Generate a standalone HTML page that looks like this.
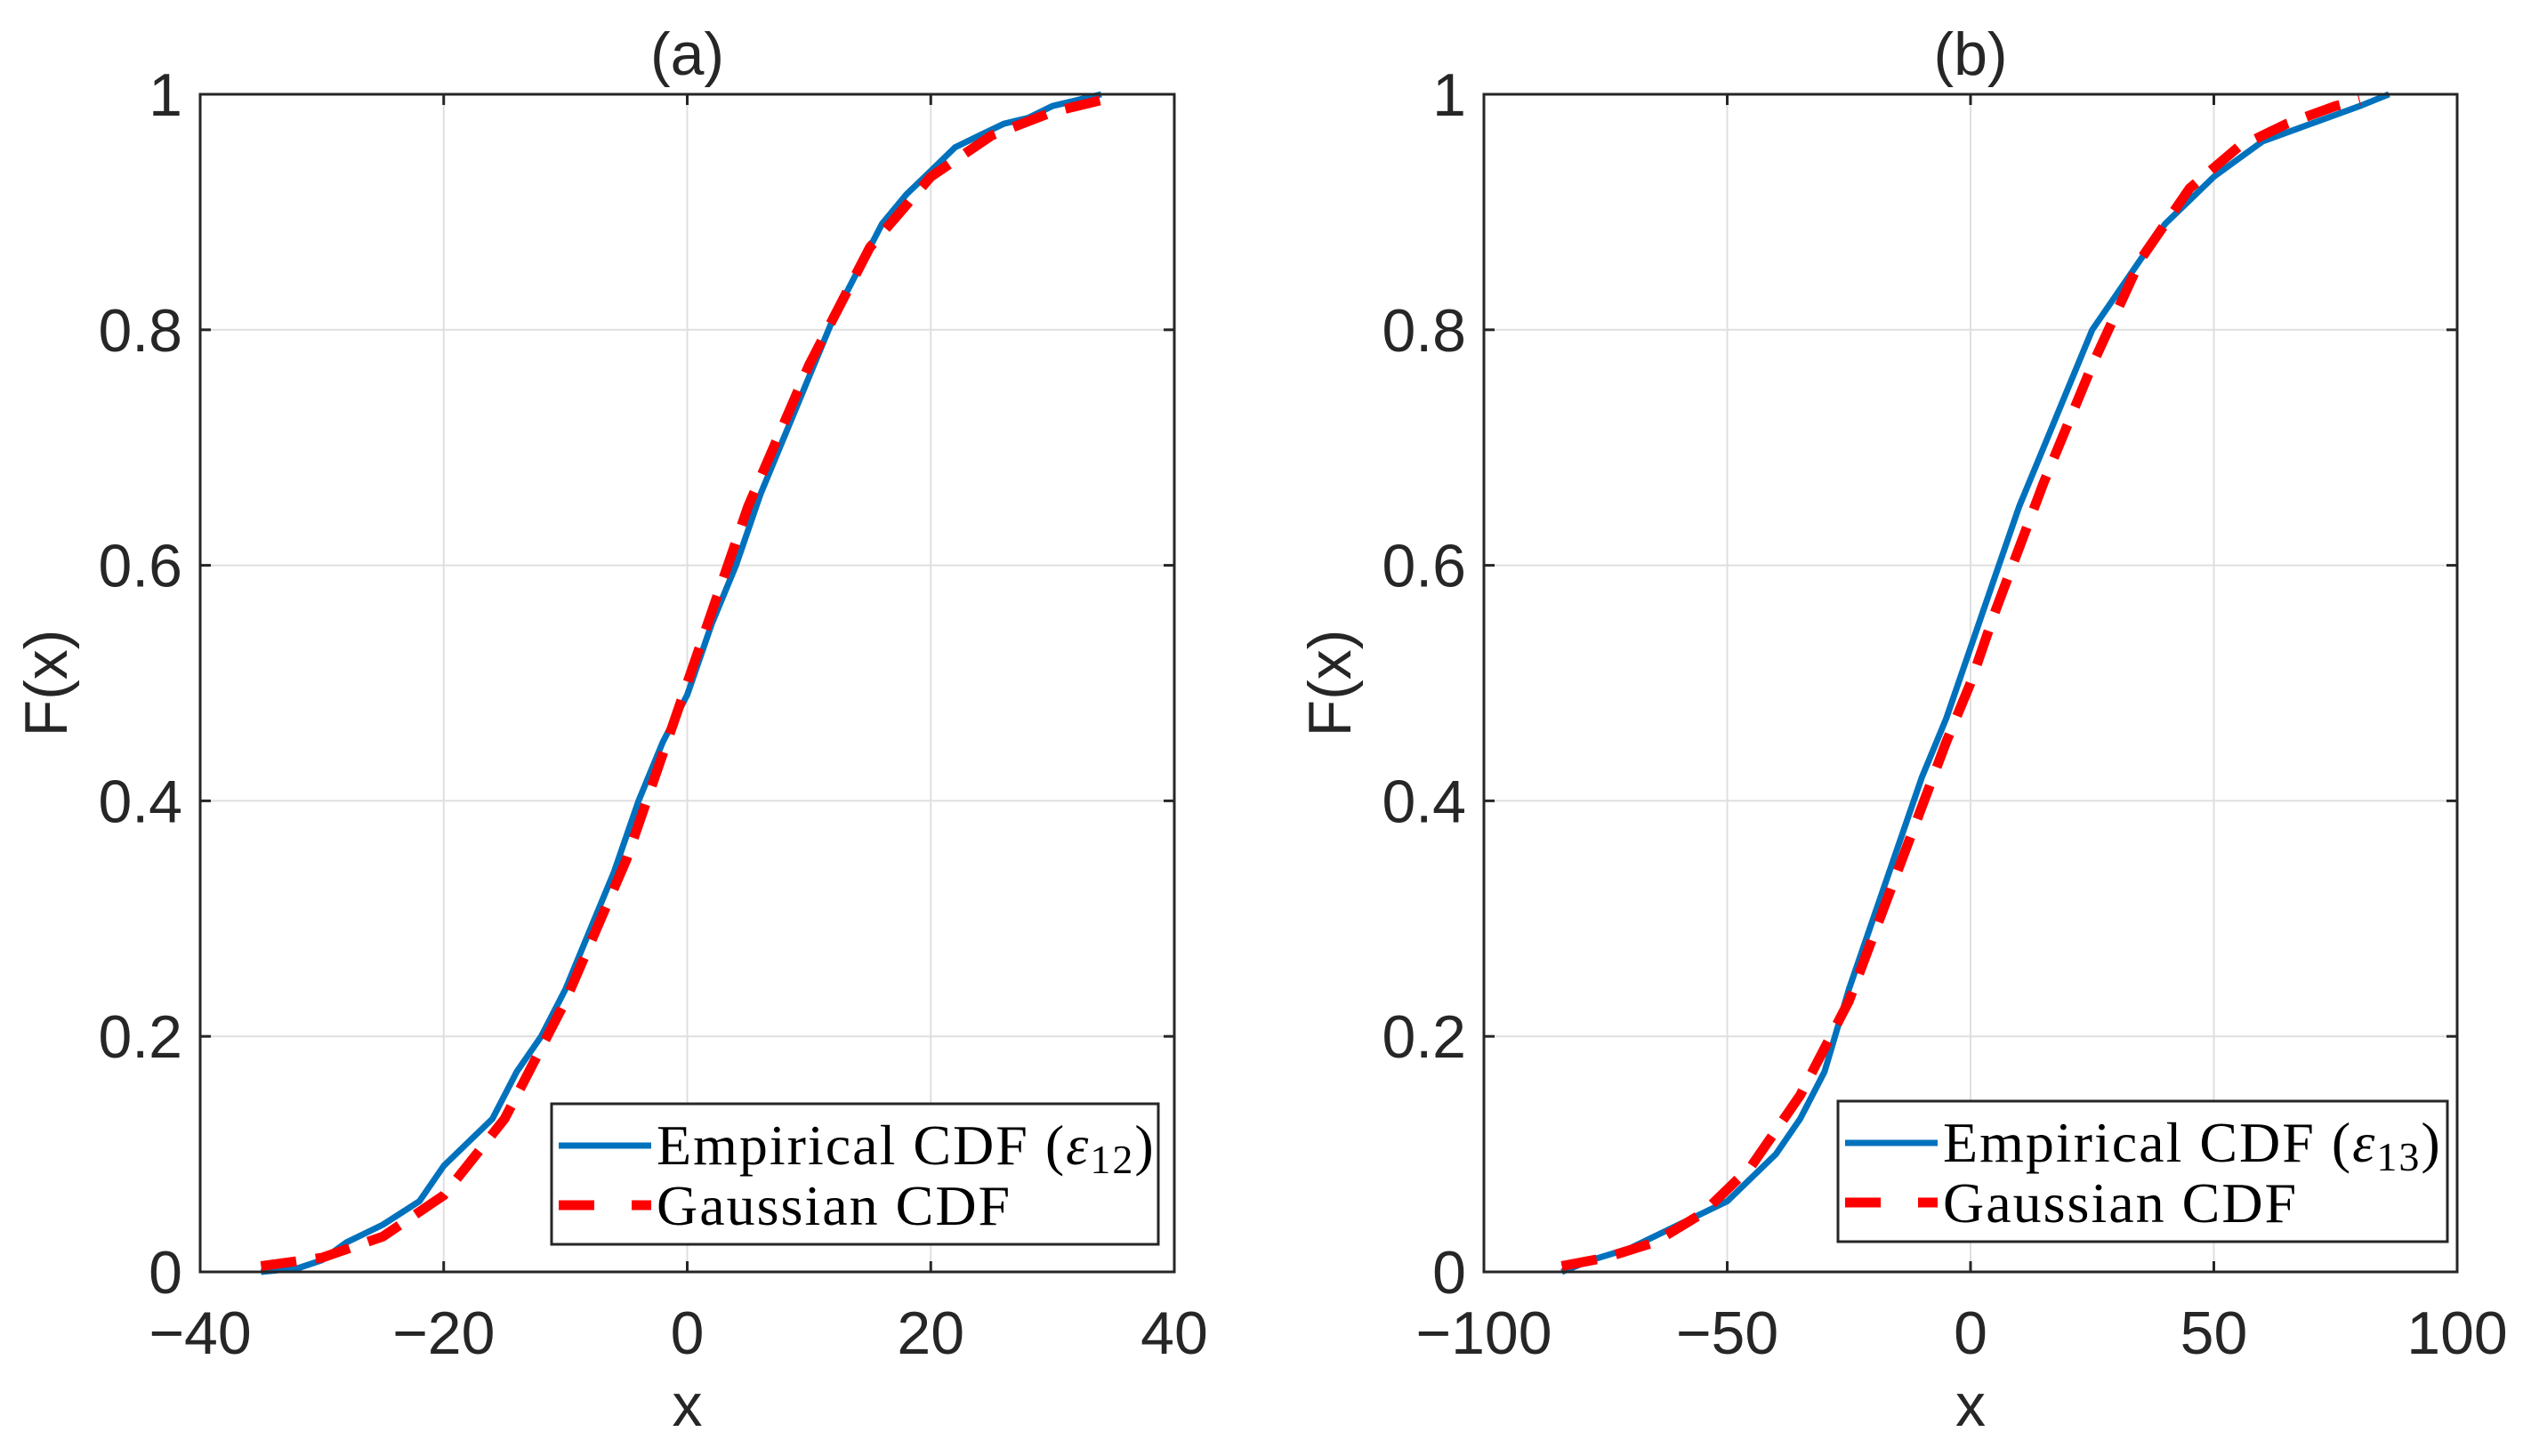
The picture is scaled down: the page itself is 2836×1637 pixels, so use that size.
<!DOCTYPE html>
<html><head><meta charset="utf-8">
<style>
html,body{margin:0;padding:0;background:#fff;}
svg{display:block;}
.tick{font-family:"Liberation Sans",sans-serif;font-size:68px;fill:#262626;}
.leg{font-family:"Liberation Serif",serif;font-size:64px;fill:#000;letter-spacing:2px;}
</style></head>
<body>
<svg id="chart" width="2836" height="1637" viewBox="0 0 2836 1637" xmlns="http://www.w3.org/2000/svg"></svg>
<script>
// Panel (a)
const aEmpX = [-35,-32,-30,-28,-25,-22,-20,-18,-16,-14,-12,-10,-8,-6,-4,-2,0,2,4,6,8,10,12,14,16,18,20,22,24,26,28,30,32,34];
const aEmpY = [0,0.003,0.01,0.025,0.04,0.06,0.09,0.11,0.13,0.17,0.2,0.24,0.29,0.34,0.4,0.45,0.49,0.55,0.6,0.66,0.71,0.76,0.81,0.85,0.89,0.915,0.935,0.955,0.965,0.975,0.98,0.99,0.995,1];
const aGauX = [-35,-30,-25,-20,-15,-10,-5,0,5,10,15,20,25,30,34];
const aGauY = [0.005,0.012,0.03,0.065,0.13,0.23,0.35,0.5,0.65,0.77,0.87,0.93,0.965,0.985,0.995];
const aXTicks = [-40,-20,0,20,40];
const aXTickLabels = ["\u221240","\u221220","0","20","40"];
// Panel (b)
const bEmpX = [-84,-78,-70,-60,-50,-45,-40,-35,-30,-25,-20,-15,-10,-5,0,5,10,15,20,25,30,35,40,45,50,55,60,70,80,86];
const bEmpY = [0,0.01,0.02,0.04,0.06,0.08,0.1,0.13,0.17,0.24,0.3,0.36,0.42,0.47,0.53,0.59,0.65,0.7,0.75,0.8,0.83,0.86,0.89,0.91,0.93,0.945,0.96,0.975,0.99,1];
const bGauX = [-84,-75,-65,-55,-45,-35,-25,-15,-5,0,5,15,25,35,45,55,65,75,80];
const bGauY = [0.005,0.012,0.025,0.05,0.09,0.15,0.23,0.34,0.45,0.5,0.56,0.67,0.77,0.86,0.92,0.955,0.975,0.99,0.995];
const bXTicks = [-100,-50,0,50,100];
const bXTickLabels = ["\u2212100","\u221250","0","50","100"];
const yTicks = [0,0.2,0.4,0.6,0.8,1];
const yTickLabels = ["0","0.2","0.4","0.6","0.8","1"];

const NS = "http://www.w3.org/2000/svg";
const svg = document.getElementById('chart');
function mk(tag, attrs, parent){
  const e = document.createElementNS(NS, tag);
  for (const k in attrs) e.setAttribute(k, attrs[k]);
  (parent||svg).appendChild(e);
  return e;
}
function panel(o){
  const g = mk('g', {});
  
  
  const sx = v => o.L + (v - o.xmin) / (o.xmax - o.xmin) * (o.R - o.L);
  const sy = v => o.B - v * (o.B - o.T);
  o.xt.forEach((t) => {
    const l = mk('line', {x1:sx(t), x2:sx(t), y1:o.T, y2:o.B, stroke:'#dfdfdf', 'stroke-width':2}, g);
    
    
  });
  yTicks.forEach((t) => {
    const l = mk('line', {x1:o.L, x2:o.R, y1:sy(t), y2:sy(t), stroke:'#dfdfdf', 'stroke-width':2}, g);
    
    
  });
  const ptsE = o.ex.map((x,i)=>sx(x).toFixed(1)+','+sy(o.ey[i]).toFixed(1)).join(' ');
  const ptsG = o.gx.map((x,i)=>sx(x).toFixed(1)+','+sy(o.gy[i]).toFixed(1)).join(' ');
  const pe = mk('polyline', {points:ptsE, fill:'none', stroke:'#0072BD', 'stroke-width':7, 'stroke-linejoin':'round'}, g);
  
  
  const pg = mk('polyline', {points:ptsG, fill:'none', stroke:'#ff0000', 'stroke-width':11, 'stroke-dasharray':'40 22'}, g);
  
  
  const box = mk('rect', {x:o.L, y:o.T, width:o.R-o.L, height:o.B-o.T, fill:'none', stroke:'#262626', 'stroke-width':3}, g);
  
  
  o.xt.forEach((t,i) => {
    mk('line', {x1:sx(t), x2:sx(t), y1:o.B, y2:o.B-12, stroke:'#262626', 'stroke-width':3}, g);
    mk('line', {x1:sx(t), x2:sx(t), y1:o.T, y2:o.T+12, stroke:'#262626', 'stroke-width':3}, g);
    const tx = mk('text', {x:sx(t), y:o.B+92, 'text-anchor':'middle', class:'tick'}, g);
    tx.textContent = o.xl[i];
    
    
  });
  yTicks.forEach((t,i) => {
    mk('line', {x1:o.L, x2:o.L+12, y1:sy(t), y2:sy(t), stroke:'#262626', 'stroke-width':3}, g);
    mk('line', {x1:o.R, x2:o.R-12, y1:sy(t), y2:sy(t), stroke:'#262626', 'stroke-width':3}, g);
    const tx = mk('text', {x:o.L-20, y:sy(t)+24, 'text-anchor':'end', class:'tick'}, g);
    tx.textContent = yTickLabels[i];
    
    
  });
  const cx = (o.L+o.R)/2;
  const xt = mk('text', {x:cx, y:1603, 'text-anchor':'middle', class:'tick'}, g);
  xt.textContent = 'x';
  
  
  const yt = mk('text', {x:0, y:0, 'text-anchor':'middle', class:'tick', transform:`translate(${o.L-150},${(o.T+o.B)/2}) rotate(-90)`}, g);
  yt.textContent = 'F(x)';
  
  
  const ti = mk('text', {x:cx, y:84, 'text-anchor':'middle', class:'tick'}, g);
  ti.textContent = o.title;
  
  
  const lg = mk('g', {}, g);
  
  
  mk('rect', {x:o.lx, y:o.ly, width:o.lw, height:158, fill:'#fff', stroke:'#262626', 'stroke-width':3}, lg);
  mk('line', {x1:o.lx+8, x2:o.lx+112, y1:o.ly+47, y2:o.ly+47, stroke:'#0072BD', 'stroke-width':7}, lg);
  mk('line', {x1:o.lx+8, x2:o.lx+112, y1:o.ly+114, y2:o.ly+114, stroke:'#ff0000', 'stroke-width':11, 'stroke-dasharray':'40 42'}, lg);
  const t1 = mk('text', {x:o.lx+118, y:o.ly+68, class:'leg'}, lg);
  t1.innerHTML = 'Empirical CDF (<tspan font-style="italic">ε</tspan><tspan font-size="46" dy="10">' + o.sub + '</tspan><tspan dy="-10">)</tspan>';
  
  
  const t2 = mk('text', {x:o.lx+118, y:o.ly+136, class:'leg'}, lg);
  t2.textContent = 'Gaussian CDF';
  
  
}
panel({name:'panel-a', L:225, R:1320, T:106, B:1430, xmin:-40, xmax:40, xt:aXTicks, xl:aXTickLabels,
  ex:aEmpX, ey:aEmpY, gx:aGauX, gy:aGauY, title:'(a)', sub:'12', lx:620, ly:1241, lw:682});
panel({name:'panel-b', L:1668, R:2762, T:106, B:1430, xmin:-100, xmax:100, xt:bXTicks, xl:bXTickLabels,
  ex:bEmpX, ey:bEmpY, gx:bGauX, gy:bGauY, title:'(b)', sub:'13', lx:2066, ly:1238, lw:685});
</script>
</body></html>
